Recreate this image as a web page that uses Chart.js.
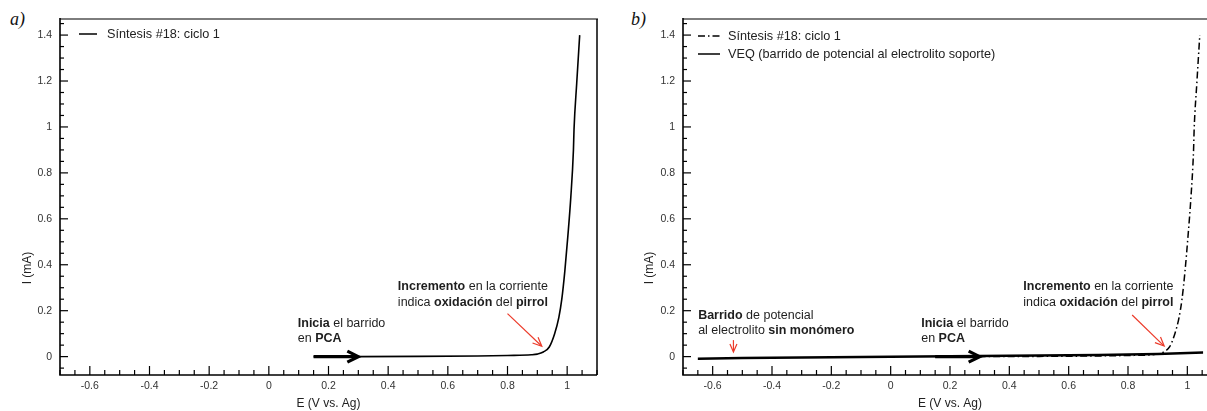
<!DOCTYPE html>
<html>
<head>
<meta charset="utf-8">
<script src="https://cdn.jsdelivr.net/npm/chart.js@4/dist/chart.umd.min.js"></script>
<style>
html,body{margin:0;padding:0;background:#fff;overflow:hidden;width:1207px;height:411px;}
.wrap{position:absolute;top:0;height:411px;}
#wa{left:0;width:600px;}
#wb{left:607px;width:620px;}
.lbl{position:absolute;font-family:"Liberation Serif","DejaVu Serif",serif;font-style:italic;font-size:18px;color:#111;}
</style>
</head>
<body>
<div class="lbl" style="left:10px;top:9px">a)</div>
<div class="lbl" style="left:631px;top:9px">b)</div>
<div class="wrap" id="wa"><canvas id="ca"></canvas></div>
<div class="wrap" id="wb"><canvas id="cb"></canvas></div>
<script>
// ---------- data ----------
const xTicks = [-0.6, -0.4, -0.2, 0, 0.2, 0.4, 0.6, 0.8, 1];
const yTicks = [0, 0.2, 0.4, 0.6, 0.8, 1, 1.2, 1.4];
const xRange = [-0.7, 1.1];
const yRange = [-0.08, 1.47];

// Síntesis #18: ciclo 1 (E in V vs Ag, I in mA)
const sintesisE = [0.15, 0.30, 0.50, 0.70, 0.80, 0.88, 0.90, 0.92, 0.94, 0.958, 0.972, 0.982, 0.992, 1.002, 1.012, 1.021, 1.023, 1.032, 1.042];
const sintesisI = [0, 0, 0.001, 0.003, 0.005, 0.008, 0.011, 0.020, 0.042, 0.10, 0.17, 0.25, 0.37, 0.52, 0.69, 0.90, 0.99, 1.19, 1.40];

// VEQ (barrido de potencial al electrolito soporte): forward then reverse sweep
const veqE = [-0.65, -0.5, -0.3, -0.1, 0.1, 0.3, 0.5, 0.7, 0.9, 1.05, 1.05, 0.9, 0.7, 0.5, 0.3, 0.1, -0.1, -0.3, -0.5, -0.65];
const veqI = [-0.011, -0.008, -0.005, -0.003, -0.001, 0.001, 0.003, 0.006, 0.010, 0.016, 0.019, 0.013, 0.009, 0.006, 0.004, 0.002, 0.000, -0.002, -0.005, -0.008];

const labelSintesis = 'Síntesis #18: ciclo 1';
const labelVEQ = 'VEQ (barrido de potencial al electrolito soporte)';
const xTitle = 'E (V vs. Ag)';
const yTitle = 'I (mA)';

// ---------- helpers ----------
const FF = '"Liberation Sans", Arial, Helvetica, sans-serif';
const pts = (xs, ys) => xs.map((v, i) => ({x: v, y: ys[i]}));

function drawArrow(ctx, x0, y0, x1, y1, color, width, headLen, headHalf) {
  const ang = Math.atan2(y1 - y0, x1 - x0);
  const ca = Math.cos(ang), sa = Math.sin(ang);
  ctx.save();
  ctx.strokeStyle = color; ctx.lineWidth = width; ctx.lineCap = 'butt'; ctx.lineJoin = 'miter';
  ctx.beginPath(); ctx.moveTo(x0, y0); ctx.lineTo(x1 - ca * width * 0.6, y1 - sa * width * 0.6); ctx.stroke();
  const bx = x1 - headLen * ca, by = y1 - headLen * sa;
  ctx.beginPath();
  ctx.moveTo(bx - headHalf * sa, by + headHalf * ca);
  ctx.lineTo(x1, y1);
  ctx.lineTo(bx + headHalf * sa, by - headHalf * ca);
  ctx.stroke();
  ctx.restore();
}

function drawRich(ctx, segs, x, y, align, size, color) {
  let total = 0;
  const widths = segs.map(([t, b]) => {
    ctx.font = (b ? 'bold ' : '') + size + 'px ' + FF;
    const w = ctx.measureText(t).width; total += w; return w;
  });
  let cx = align === 'center' ? x - total / 2 : (align === 'right' ? x - total : x);
  ctx.fillStyle = color; ctx.textBaseline = 'middle'; ctx.textAlign = 'left';
  segs.forEach(([t, b], i) => {
    ctx.font = (b ? 'bold ' : '') + size + 'px ' + FF;
    ctx.fillText(t, cx, y); cx += widths[i];
  });
}

// frame: borders + inward ticks + y title
const framePlugin = {
  id: 'frame',
  afterDraw(chart, args, opts) {
    const {ctx, chartArea: a, scales: {x, y}} = chart;
    ctx.save();
    ctx.strokeStyle = '#7d7d7d'; ctx.lineWidth = 2;
    ctx.beginPath(); ctx.moveTo(a.left, a.top); ctx.lineTo(a.right + 1, a.top); ctx.stroke();
    ctx.strokeStyle = '#000'; ctx.lineWidth = 1.5;
    ctx.beginPath(); ctx.moveTo(a.right, a.top); ctx.lineTo(a.right, a.bottom); ctx.stroke();
    ctx.lineWidth = 1.6;
    ctx.beginPath(); ctx.moveTo(a.left, a.top - 1); ctx.lineTo(a.left, a.bottom); ctx.lineTo(a.right, a.bottom); ctx.stroke();
    ctx.lineWidth = 1.2;
    const isMajor = (v, list) => list.some(t => Math.abs(t - v) < 1e-6);
    for (let k = Math.ceil(x.min / 0.05 - 1e-6); k * 0.05 <= x.max + 1e-6; k++) {
      const v = k * 0.05, px = x.getPixelForValue(v);
      const len = isMajor(v, xTicks) ? 9 : 5;
      ctx.beginPath(); ctx.moveTo(px, a.bottom); ctx.lineTo(px, a.bottom - len); ctx.stroke();
    }
    for (let k = Math.ceil(y.min / 0.05 - 1e-6); k * 0.05 <= y.max + 1e-6; k++) {
      const v = k * 0.05, py = y.getPixelForValue(v);
      const len = isMajor(v, yTicks) ? 8 : 4;
      ctx.beginPath(); ctx.moveTo(a.left, py); ctx.lineTo(a.left + len, py); ctx.stroke();
    }
    ctx.translate(opts.yTitleX, opts.yTitleY);
    ctx.rotate(-Math.PI / 2);
    ctx.fillStyle = '#222'; ctx.font = '12px ' + FF; ctx.textAlign = 'center'; ctx.textBaseline = 'middle';
    ctx.fillText(yTitle, 0, 0);
    ctx.restore();
  }
};

// legend drawn from datasets
const legendPlugin = {
  id: 'legendLines',
  afterDraw(chart, args, opts) {
    const {ctx, chartArea: a} = chart;
    ctx.save();
    chart.data.datasets.forEach((ds, i) => {
      const yy = opts.y0 + i * opts.dy;
      ctx.strokeStyle = ds.borderColor; ctx.lineWidth = 1.5;
      ctx.setLineDash(ds.borderDash || []);
      ctx.beginPath(); ctx.moveTo(a.left + opts.lx0, yy); ctx.lineTo(a.left + opts.lx1, yy); ctx.stroke();
      ctx.setLineDash([]);
      ctx.fillStyle = '#222'; ctx.font = '12.7px ' + FF; ctx.textBaseline = 'middle'; ctx.textAlign = 'left';
      ctx.fillText(ds.label, a.left + opts.tx, yy);
    });
    ctx.restore();
  }
};

// annotations (texts + arrows) placed in data coordinates
const annotPlugin = {
  id: 'annot',
  afterDatasetsDraw(chart, args, opts) {
    const {ctx, scales: {x, y}} = chart;
    (opts.arrows || []).forEach(ar => {
      drawArrow(ctx, x.getPixelForValue(ar.from[0]), y.getPixelForValue(ar.from[1]),
        x.getPixelForValue(ar.to[0]), y.getPixelForValue(ar.to[1]), ar.color, ar.width, ar.head, ar.half);
    });
    (opts.texts || []).forEach(t => {
      const px = x.getPixelForValue(t.x), py = y.getPixelForValue(t.y);
      t.lines.forEach((ln, i) => drawRich(ctx, ln, px, py + i * 15.5, t.align, 12.5, '#1e1e1e'));
    });
  }
};

const RED = '#ec3b2a';
const txtInicia = [[['Inicia', 1], [' el barrido', 0]], [['en ', 0], ['PCA', 1]]];
const txtIncremento = [[['Incremento', 1], [' en la corriente', 0]], [['indica ', 0], ['oxidación', 1], [' del ', 0], ['pirrol', 1]]];
const txtBarrido = [[['Barrido', 1], [' de potencial', 0]], [['al electrolito ', 0], ['sin monómero', 1]]];

function makeOptions(padLeftAxis, padRight, legendOpts, yTitlePos, annots) {
  return {
    responsive: true,
    maintainAspectRatio: false,
    animation: false,
    layout: {padding: {left: 0, right: padRight, top: 19, bottom: 0}},
    plugins: {
      legend: {display: false},
      tooltip: {enabled: false},
      frame: yTitlePos,
      legendLines: legendOpts,
      annot: annots
    },
    scales: {
      x: {
        type: 'linear', min: xRange[0], max: xRange[1],
        grid: {display: false, drawTicks: false},
        border: {display: false},
        afterBuildTicks: s => { s.ticks = xTicks.map(v => ({value: v})); },
        afterFit: s => { s.height = 36; },
        ticks: {padding: 5, color: '#333', font: {family: FF, size: 10.5}, maxRotation: 0,
          callback: v => String(Math.round(v * 10) / 10)},
        title: {display: true, text: xTitle, color: '#222', font: {family: FF, size: 12}, padding: {top: 0, bottom: 0.5}}
      },
      y: {
        type: 'linear', min: yRange[0], max: yRange[1],
        grid: {display: false, drawTicks: false},
        border: {display: false},
        afterBuildTicks: s => { s.ticks = yTicks.map(v => ({value: v})); },
        afterFit: s => { s.width = padLeftAxis; },
        ticks: {padding: 8, color: '#333', font: {family: FF, size: 10.5},
          callback: v => String(Math.round(v * 10) / 10)}
      }
    }
  };
}

// ---------- panel a ----------
new Chart(document.getElementById('ca'), {
  type: 'scatter',
  data: {
    datasets: [{
      label: labelSintesis, data: pts(sintesisE, sintesisI), showLine: true,
      borderColor: '#000', borderWidth: 1.6, pointRadius: 0, cubicInterpolationMode: 'monotone'
    }]
  },
  options: makeOptions(60, 3,
    {y0: 34, dy: 18, lx0: 19, lx1: 37, tx: 47},
    {yTitleX: 28, yTitleY: 268},
    {
      arrows: [
        {from: [0.15, 0], to: [0.30, 0], color: '#000', width: 3.2, head: 11, half: 5.5},
        {from: [0.80, 0.187], to: [0.915, 0.045], color: RED, width: 1.2, head: 9, half: 4}
      ],
      texts: [
        {x: 0.097, y: 0.146, align: 'left', lines: txtInicia},
        {x: 0.684, y: 0.303, align: 'center', lines: txtIncremento}
      ]
    }),
  plugins: [framePlugin, legendPlugin, annotPlugin]
});

// ---------- panel b ----------
new Chart(document.getElementById('cb'), {
  type: 'scatter',
  data: {
    datasets: [{
      label: labelSintesis, data: pts(sintesisE, sintesisI), showLine: true,
      borderColor: '#000', borderWidth: 1.5, borderDash: [7, 3, 1.5, 3], pointRadius: 0, cubicInterpolationMode: 'monotone'
    }, {
      label: labelVEQ, data: pts(veqE, veqI), showLine: true,
      borderColor: '#000', borderWidth: 1.8, pointRadius: 0, tension: 0
    }]
  },
  options: makeOptions(76, 10,
    {y0: 36, dy: 18, lx0: 15, lx1: 37, tx: 45},
    {yTitleX: 43, yTitleY: 268},
    {
      arrows: [
        {from: [0.15, 0], to: [0.30, 0], color: '#000', width: 3.2, head: 11, half: 5.5},
        {from: [0.814, 0.181], to: [0.922, 0.046], color: RED, width: 1.2, head: 9, half: 4},
        {from: [-0.53, 0.072], to: [-0.53, 0.02], color: RED, width: 1.2, head: 8, half: 3.5}
      ],
      texts: [
        {x: -0.649, y: 0.181, align: 'left', lines: txtBarrido},
        {x: 0.103, y: 0.146, align: 'left', lines: txtInicia},
        {x: 0.70, y: 0.303, align: 'center', lines: txtIncremento}
      ]
    }),
  plugins: [framePlugin, legendPlugin, annotPlugin]
});
</script>
</body>
</html>
